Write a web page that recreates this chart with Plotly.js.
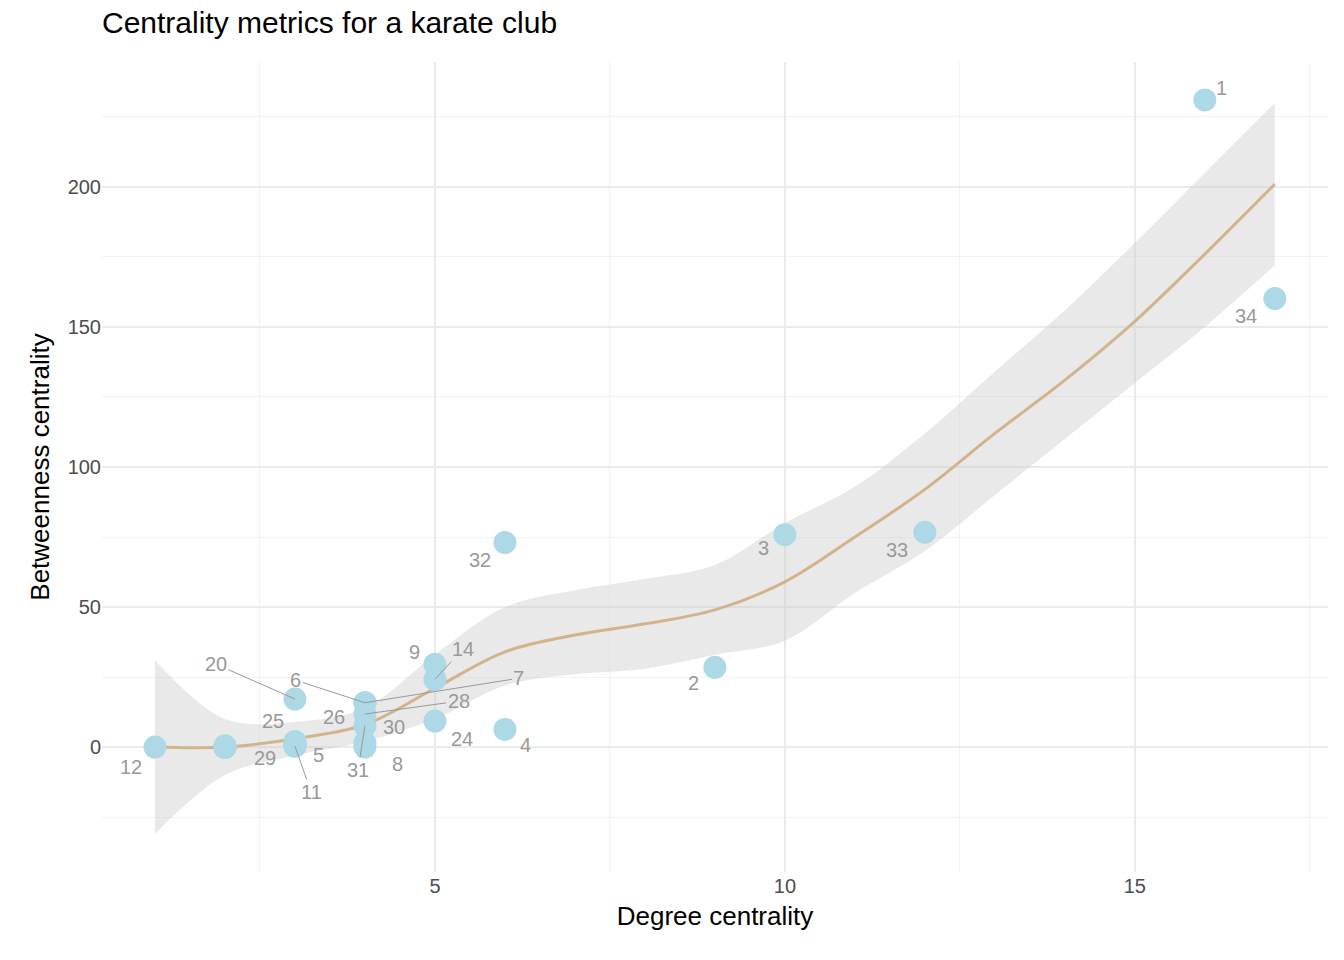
<!DOCTYPE html>
<html><head><meta charset="utf-8">
<script src="https://cdn.plot.ly/plotly-3.0.1.min.js"></script>
<style>body{margin:0}#chart{width:1344px;height:960px}</style>
</head><body><div id="chart"></div>
<script>
// karate club nodes
const degree = [16,9,10,6,3,4,4,4,5,2,3,1,2,5,2,2,2,2,2,3,2,2,2,5,3,3,2,4,3,4,4,6,12,17];
const betweenness = [231.07,28.48,75.85,6.29,0.33,15.83,15.83,0,29.53,0.45,0.33,0,0,24.22,0,0,0,0,0,17.15,0,0,0,9.3,1.17,2.03,0,11.79,0.95,1.54,7.61,73.01,76.69,160.14];

// loess fit
const fitX = [1,2,3,4,5,6,7,8,9,10,11,12,13,14,15,16,17];
const fitY = [0,0,3,8,21,34,40,44,49,59,75,92,112,131,152,176,201];
const fitLo = [-31,-10,-3,2,10,22,26,28,33,38,55,70,90,110,130,150,172];
const fitHi = [31,10,9,14,33,50,56,60,65,80,93,112,134,156,180,205,230];

// labels: node, label x, label y, draw leader line
const labNode = [1,34,33,3,2,4,32,9,14,7,28,6,20,25,26,30,24,8,31,5,29,11,12];
const labX = [16.24,16.59,11.6,9.7,8.7,6.3,5.64,4.71,5.4,6.2,5.34,3.01,1.87,2.69,3.56,4.41,5.39,4.47,3.9,3.33,2.57,3.23,0.66];
const labY = [235.4,153.9,70.4,71,22.9,0.7,66.8,33.9,35,24.6,16.4,23.9,29.6,9.3,10.7,7.1,2.9,-6.1,-8.2,-2.9,-3.9,-16,-7.1];
const labLine = [0,0,0,0,0,0,0,0,1,1,1,1,1,0,0,0,0,0,1,0,0,1,0];

const data = [
  {x: fitX, y: fitLo, mode: 'lines', line: {width: 0, shape: 'spline'}, hoverinfo: 'skip', showlegend: false},
  {x: fitX, y: fitHi, mode: 'lines', line: {width: 0, shape: 'spline'}, fill: 'tonexty', fillcolor: 'rgba(200,200,200,0.4)', hoverinfo: 'skip', showlegend: false},
  {x: fitX, y: fitY, mode: 'lines', line: {color: '#d2b48c', width: 3, shape: 'spline'}, showlegend: false},
  {x: degree, y: betweenness, mode: 'markers', marker: {color: '#add8e6', size: 23}, showlegend: false}
];

const annotations = labNode.map((n, i) => labLine[i] ? {
  x: degree[n-1], y: betweenness[n-1], xref: 'x', yref: 'y',
  ax: labX[i], ay: labY[i], axref: 'x', ayref: 'y',
  text: String(n), showarrow: true, arrowhead: 0, arrowwidth: 1, arrowcolor: '#999999',
  font: {size: 20, color: '#999999'}
} : {
  x: labX[i], y: labY[i], xref: 'x', yref: 'y', text: String(n), showarrow: false,
  font: {size: 20, color: '#999999'}
});

const grid = '#ebebeb';
const layout = {
  width: 1344, height: 960,
  margin: {l: 102, r: 16, t: 62, b: 88},
  paper_bgcolor: '#fff', plot_bgcolor: '#fff',
  font: {family: 'Liberation Sans, Arial, sans-serif', color: '#000'},
  title: {text: 'Centrality metrics for a karate club', x: 0, xref: 'paper', xanchor: 'left', y: 0.988, yanchor: 'top', font: {size: 30, color: '#000'}},
  xaxis: {range: [0.243, 17.76], tickvals: [5,10,15], zeroline: false, gridcolor: grid, gridwidth: 1.5,
    tickfont: {size: 20, color: '#4d4d4d'}, ticks: '',
    minor: {tickvals: [2.5,7.5,12.5,17.5], showgrid: true, gridcolor: '#f3f3f3', gridwidth: 1},
    title: {text: 'Degree centrality', font: {size: 26, color: '#000'}, standoff: 10}},
  yaxis: {range: [-44.6, 244.6], tickvals: [0,50,100,150,200], zeroline: false, gridcolor: grid, gridwidth: 1.5,
    tickfont: {size: 20, color: '#4d4d4d'}, ticks: '',
    minor: {tickvals: [-25,25,75,125,175,225], showgrid: true, gridcolor: '#f3f3f3', gridwidth: 1},
    title: {text: 'Betweenness centrality', font: {size: 26, color: '#000'}, standoff: 10}},
  annotations: annotations
};

Plotly.newPlot('chart', data, layout, {displayModeBar: false});
</script>
</body></html>
